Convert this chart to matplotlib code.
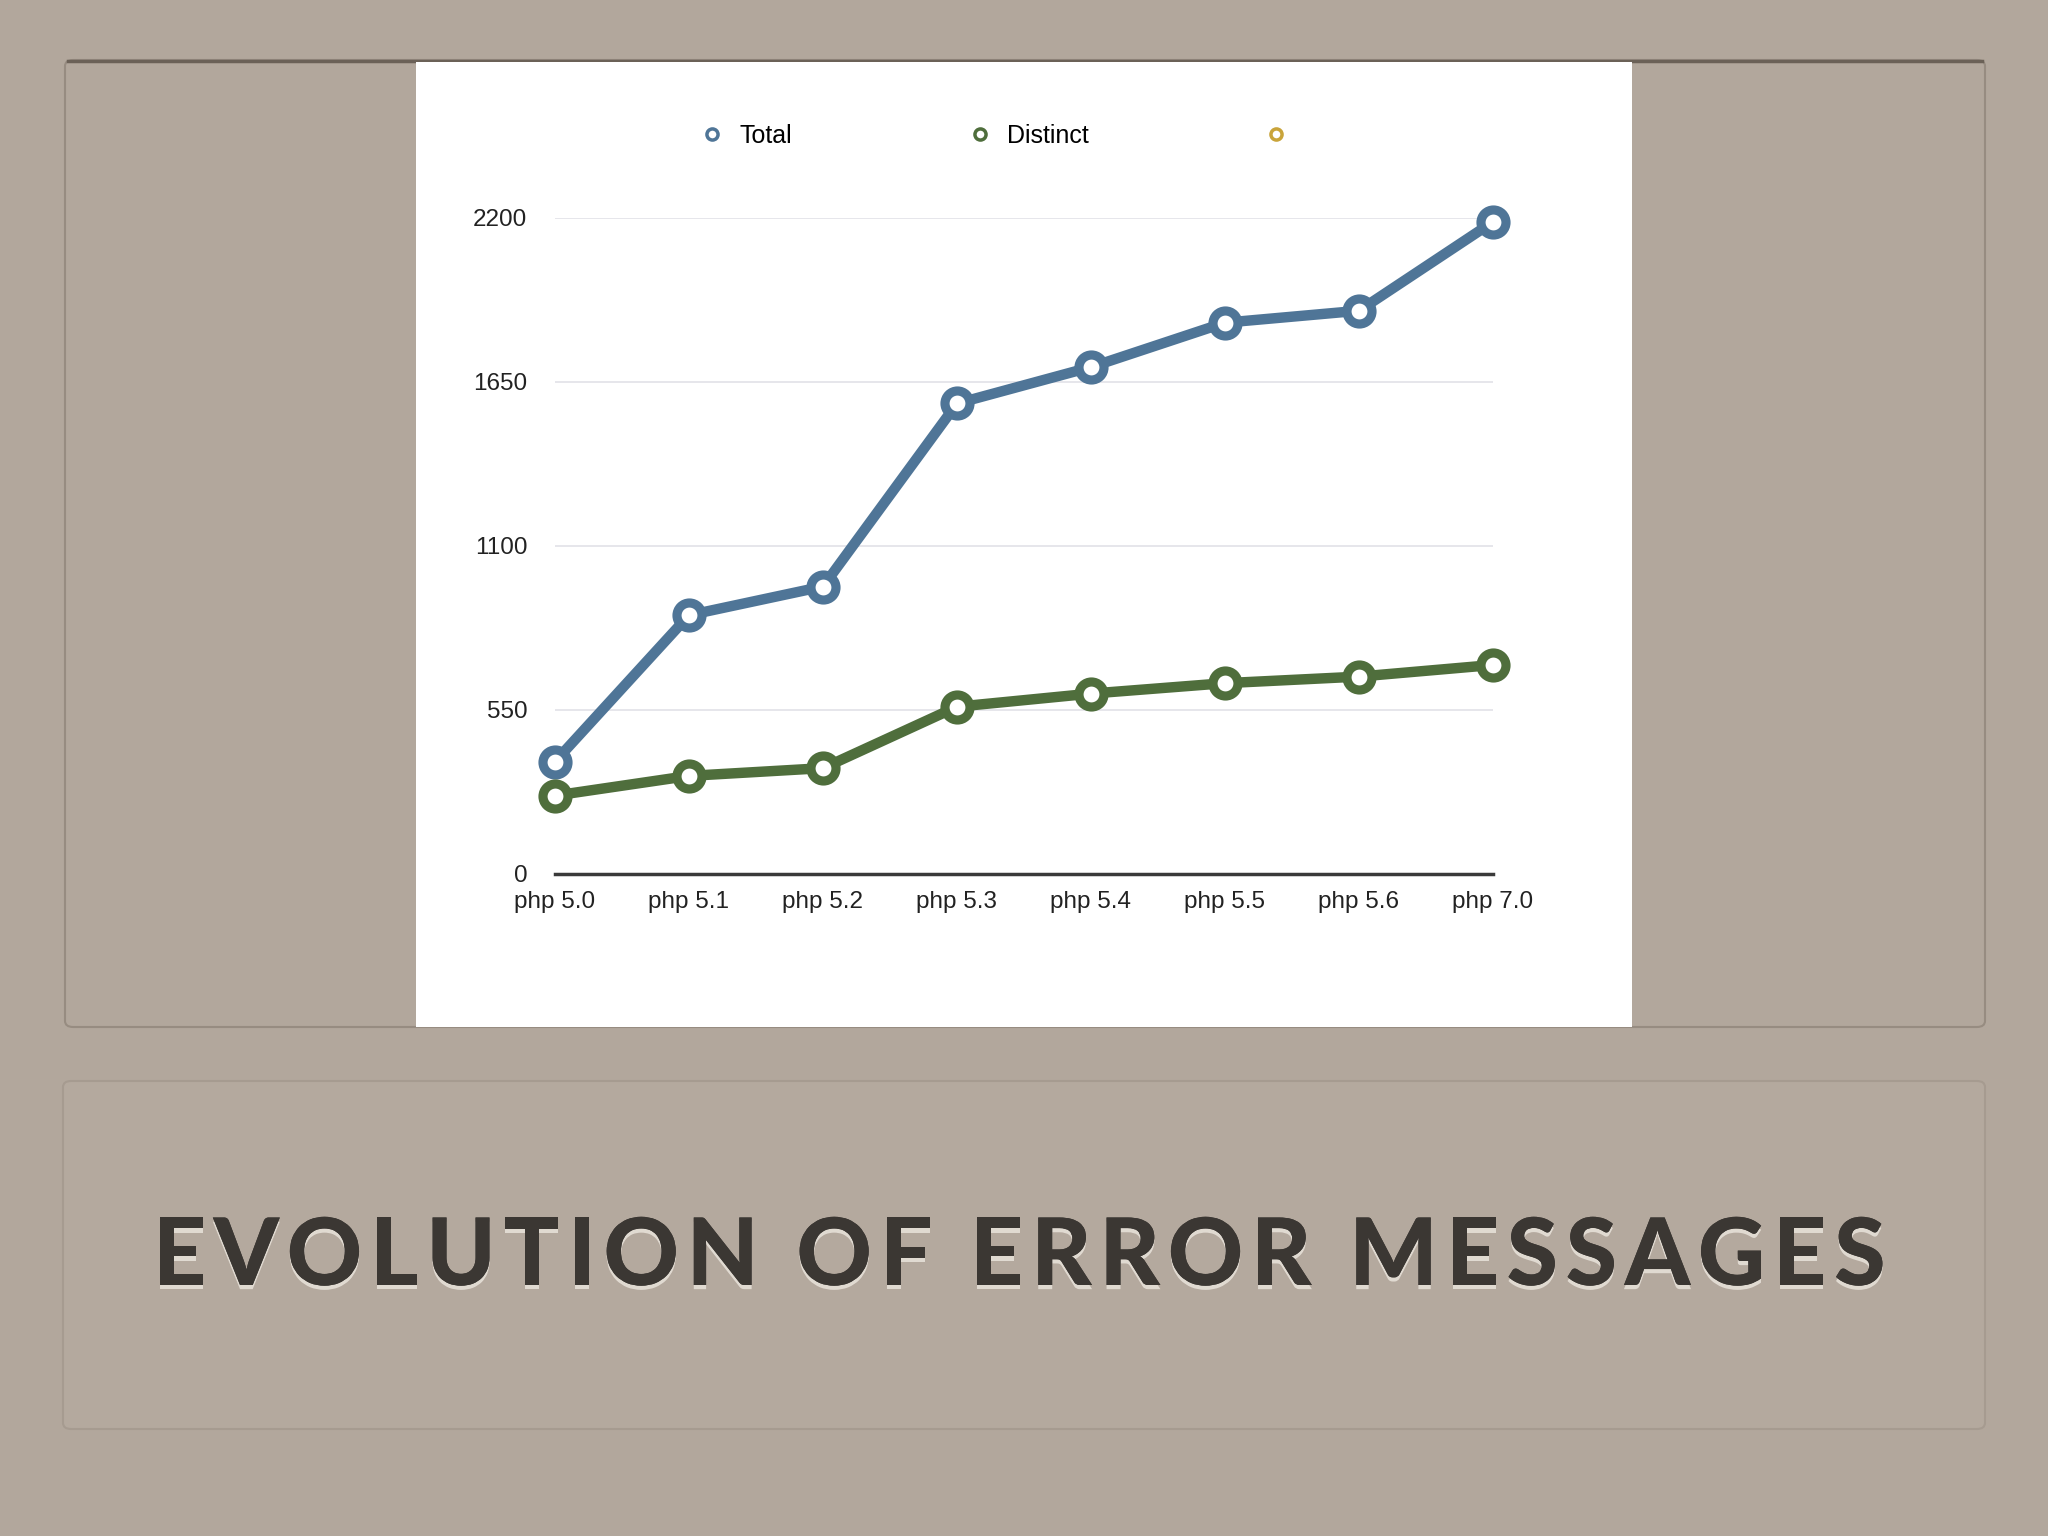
import matplotlib
matplotlib.use("Agg")
import matplotlib.pyplot as plt
import matplotlib.patheffects as pe
from matplotlib.patches import FancyBboxPatch, Rectangle
from matplotlib.lines import Line2D

versions = ["php 5.0", "php 5.1", "php 5.2", "php 5.3", "php 5.4", "php 5.5", "php 5.6", "php 7.0"]
total = [377, 868, 964, 1578, 1700, 1849, 1889, 2187]
distinct = [263, 329, 355, 561, 605, 640, 662, 701]
y_ticks = [0, 550, 1100, 1650, 2200]
legend_labels = ["Total", "Distinct", ""]
title = "EVOLUTION OF ERROR MESSAGES"

W, H = 2048, 1536
BG = "#b2a79c"
BLUE = "#4f7597"
GREEN = "#4f6e3c"
GOLD = "#c9a43a"


def fx(px):
    return px / W


def fy(py):
    return 1 - py / H


def tracked_text(fig, s, xc, y, target_width, **kw):
    """Draw s centred at xc (pixels) with extra letter spacing so it spans target_width."""
    renderer = fig.canvas.get_renderer()

    def width(txt):
        t = fig.text(0, 0, txt, **kw)
        w = t.get_window_extent(renderer).width
        t.remove()
        return w

    bar = width("|")
    offsets = [width(s[:i] + "|") - bar for i in range(len(s))]
    full = width(s)
    tracking = (target_width - full) / (len(s) - 1)
    x0 = xc - target_width / 2
    for i, ch in enumerate(s):
        if ch == " ":
            continue
        fig.text(fx(x0 + offsets[i] + i * tracking), y, ch, ha="left", va="center", **kw)


fig = plt.figure(figsize=(20.48, 15.36), dpi=100, facecolor=BG)

# slide frames
top_frame = FancyBboxPatch((fx(65), fy(1027)), fx(1985) - fx(65), fy(60) - fy(1027),
                           boxstyle="round,pad=0,rounding_size=0.004", transform=fig.transFigure,
                           facecolor=BG, edgecolor="#978c81", linewidth=1.5, zorder=0)
fig.patches.append(top_frame)
fig.add_artist(Line2D([fx(68), fx(1982)], [fy(61), fy(61)], transform=fig.transFigure,
                      color="#6b6157", linewidth=2.5, zorder=1))
bottom_panel = FancyBboxPatch((fx(63), fy(1429)), fx(1985) - fx(63), fy(1081) - fy(1429),
                              boxstyle="round,pad=0,rounding_size=0.004", transform=fig.transFigure,
                              facecolor="#b4a99e", edgecolor="#a69b90", linewidth=1.5, zorder=0)
fig.patches.append(bottom_panel)
fig.patches.append(Rectangle((fx(416), fy(1027)), fx(1632) - fx(416), fy(62) - fy(1027),
                             transform=fig.transFigure, facecolor="white", edgecolor="none", zorder=2))

# chart
ax = fig.add_axes([fx(555), fy(874), fx(1493) - fx(555), fy(218) - fy(874)], zorder=3)
ax.set_facecolor("none")
x = list(range(len(versions)))
ax.plot(x, total, color=BLUE, linewidth=7.5, marker="o", markersize=18,
        markerfacecolor="white", markeredgewidth=6.6, clip_on=False, zorder=4)
ax.plot(x, distinct, color=GREEN, linewidth=7.5, marker="o", markersize=18,
        markerfacecolor="white", markeredgewidth=6.6, clip_on=False, zorder=4)
ax.set_xlim(0, len(versions) - 1)
ax.set_ylim(0, 2200)
ax.set_yticks(y_ticks)
ax.set_xticks(x)
ax.set_xticklabels(versions)
ax.yaxis.grid(True, color="#e4e4e9", linewidth=1.3)
ax.set_axisbelow(True)
for side in ["top", "right", "left"]:
    ax.spines[side].set_visible(False)
ax.spines["bottom"].set_color("#3a3a3a")
ax.spines["bottom"].set_linewidth(2.5)
ax.tick_params(axis="y", length=0, pad=20, labelsize=17.5, labelcolor="#222222")
ax.tick_params(axis="x", length=0, pad=12, labelsize=17.5, labelcolor="#222222")
for lbl in ax.get_xticklabels() + ax.get_yticklabels():
    lbl.set_fontfamily("Liberation Sans")

handles = [Line2D([], [], linestyle="none", marker="o", markersize=8, markerfacecolor="white",
                  markeredgewidth=2.5, markeredgecolor=c) for c in (BLUE, GREEN, GOLD)]
fig.legend(handles, legend_labels, loc="center left", bbox_to_anchor=(fx(687), fy(136)),
           ncol=3, frameon=False, borderpad=0, handlelength=1.0, handletextpad=0.6,
           columnspacing=7.0, prop={"family": "Liberation Sans", "size": 18})

# slide title
tracked_text(fig, title, 1019, fy(1258), 1733, fontsize=67, fontweight="black", family="Lato",
             color="#3b3733",
             path_effects=[pe.withSimplePatchShadow(offset=(0, -3), shadow_rgbFace="#f4efe8", alpha=0.7),
                           pe.Normal()])

fig.savefig("out.png", dpi=100, facecolor=BG)
